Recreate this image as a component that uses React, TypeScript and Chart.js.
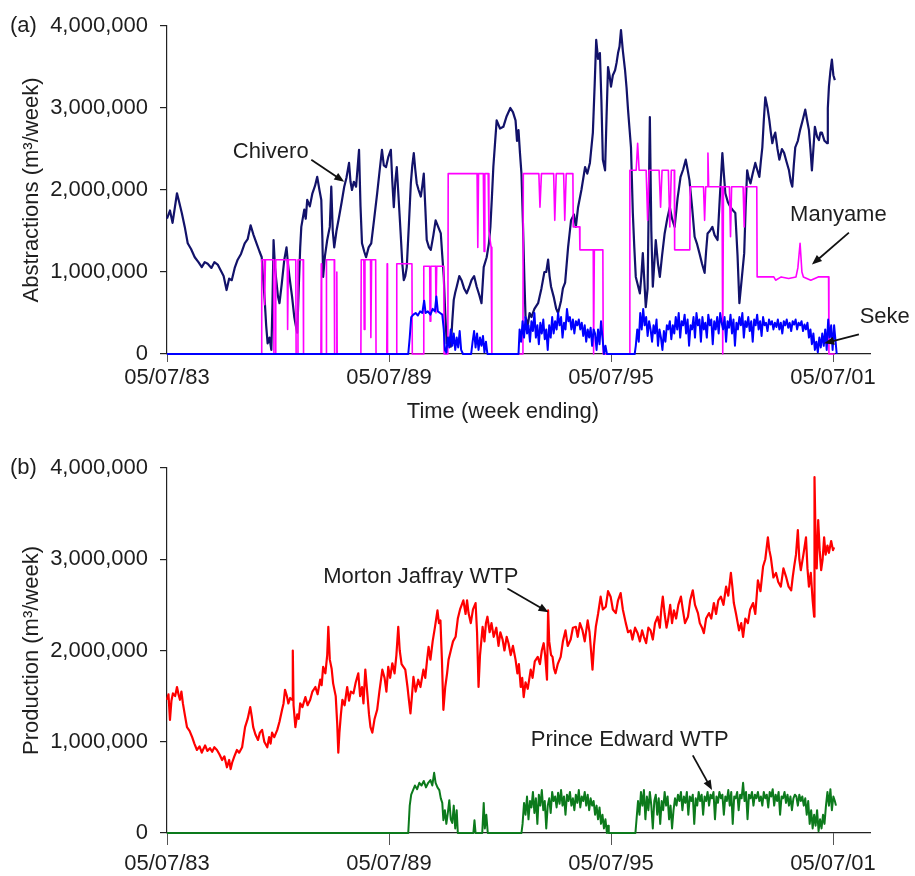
import React, { useEffect, useRef } from "react";
import { Chart, registerables } from "chart.js";

Chart.register(...registerables);

const FONT_FAMILY = "'Liberation Sans', Arial, Helvetica, sans-serif";
const TEXT_COLOR = "#1e1e1e";
const UNIT = 1000000; // series values below are in millions of m3/week

// x = years since week ending 05/07/83
const xTickValues = [0, 6, 12, 18];
const xTickLabels = ["05/07/83", "05/07/89", "05/07/95", "05/07/01"];
const yTickValues = [0, 1000000, 2000000, 3000000, 4000000];

type Pt = [number, number];

// ---------- (a) Abstractions ----------
const chiveroSeries: Pt[] = [
  [0,1.65],[0.08,1.75],[0.15,1.60],[0.27,1.96],[0.33,1.85],[0.40,1.72],[0.48,1.55],[0.56,1.35],[0.65,1.28],[0.75,1.18],[0.85,1.12],[0.94,1.06],[1.02,1.12],[1.10,1.10],[1.20,1.05],[1.28,1.12],[1.37,1.09],[1.45,1.02],[1.53,0.95],[1.61,0.78],[1.68,0.92],[1.75,0.90],[1.83,1.05],[1.91,1.15],[2.00,1.22],[2.10,1.35],[2.18,1.40],[2.26,1.57],[2.34,1.45],[2.42,1.35],[2.50,1.25],[2.56,1.18],[2.60,0.90],[2.64,0.66],[2.68,0.35],[2.72,0.13],[2.77,0.20],[2.82,0.05],[2.85,0.60],[2.88,1.39],[2.92,1.05],[2.96,0.87],[3.00,0.70],[3.04,0.62],[3.10,0.85],[3.17,1.15],[3.23,1.30],[3.27,1.10],[3.31,0.94],[3.38,0.70],[3.44,0.45],[3.48,0.35],[3.52,0.26],[3.56,0.80],[3.60,1.30],[3.63,1.55],[3.71,1.76],[3.75,1.65],[3.79,1.88],[3.86,1.80],[3.93,1.96],[4.00,2.05],[4.06,2.16],[4.12,2.00],[4.17,1.88],[4.20,1.40],[4.22,0.94],[4.27,1.20],[4.33,1.39],[4.40,1.55],[4.44,2.04],[4.48,1.50],[4.52,1.30],[4.58,1.50],[4.65,1.67],[4.72,1.85],[4.79,2.04],[4.85,2.15],[4.92,2.33],[4.96,2.10],[5.00,2.00],[5.05,2.10],[5.11,2.04],[5.19,2.49],[5.23,1.80],[5.27,1.35],[5.33,1.25],[5.38,1.18],[5.45,1.30],[5.52,1.35],[5.60,1.65],[5.68,1.96],[5.75,2.25],[5.81,2.49],[5.86,2.30],[5.92,2.28],[5.98,2.40],[6.05,2.49],[6.09,2.10],[6.13,1.79],[6.17,2.10],[6.21,2.28],[6.26,1.90],[6.32,1.43],[6.36,1.10],[6.40,0.90],[6.44,0.95],[6.48,1.06],[6.54,1.60],[6.59,2.08],[6.63,2.30],[6.67,2.45],[6.71,2.25],[6.75,2.08],[6.80,2.00],[6.86,1.92],[6.90,2.05],[6.94,2.20],[6.98,1.80],[7.02,1.39],[7.08,1.30],[7.13,1.27],[7.20,1.45],[7.26,1.63],[7.33,1.55],[7.40,1.47],[7.44,1.20],[7.48,0.94],[7.52,0.50],[7.56,0.13],[7.62,0.20],[7.67,0.09],[7.71,0.40],[7.75,0.66],[7.79,0.75],[7.83,0.82],[7.90,0.95],[7.96,0.90],[8.03,0.80],[8.10,0.74],[8.17,0.82],[8.23,0.90],[8.30,0.95],[8.37,0.82],[8.44,0.72],[8.50,0.62],[8.56,1.06],[8.64,1.18],[8.70,1.35],[8.74,1.55],[8.78,1.90],[8.82,2.28],[8.87,2.60],[8.91,2.85],[9.00,2.75],[9.09,2.77],[9.18,2.90],[9.28,3.00],[9.35,2.95],[9.42,2.85],[9.46,2.60],[9.50,2.73],[9.54,2.45],[9.58,2.20],[9.62,1.60],[9.66,0.90],[9.69,0.45],[9.75,0.35],[9.80,0.50],[9.85,0.45],[9.93,0.55],[10.03,0.62],[10.12,0.80],[10.20,1.00],[10.25,1.00],[10.30,1.15],[10.34,0.95],[10.38,0.82],[10.45,0.70],[10.52,0.55],[10.57,0.50],[10.65,0.65],[10.70,0.80],[10.76,0.87],[10.84,1.30],[10.92,1.63],[11.00,1.70],[11.05,1.55],[11.11,1.79],[11.20,2.00],[11.30,2.28],[11.36,2.20],[11.43,2.33],[11.51,2.70],[11.56,3.30],[11.60,3.83],[11.65,3.60],[11.70,3.67],[11.74,3.10],[11.78,2.37],[11.84,2.24],[11.88,2.90],[11.92,3.50],[11.96,3.40],[12.00,3.26],[12.05,3.40],[12.11,3.46],[12.15,3.55],[12.19,3.67],[12.23,3.75],[12.27,3.95],[12.32,3.70],[12.38,3.46],[12.42,3.25],[12.46,2.98],[12.50,2.75],[12.54,2.52],[12.59,1.72],[12.63,1.30],[12.67,0.94],[12.72,0.85],[12.78,0.74],[12.82,0.95],[12.86,1.23],[12.90,0.90],[12.94,0.57],[12.99,0.80],[13.05,2.89],[13.09,1.50],[13.13,0.82],[13.17,1.10],[13.21,1.39],[13.27,1.10],[13.32,0.94],[13.38,1.20],[13.45,1.47],[13.52,1.65],[13.59,1.79],[13.65,1.65],[13.72,1.55],[13.80,1.90],[13.88,2.16],[13.95,2.25],[14.02,2.37],[14.07,2.25],[14.12,2.12],[14.19,1.80],[14.26,1.43],[14.32,1.35],[14.39,1.23],[14.46,1.10],[14.53,0.99],[14.57,1.25],[14.61,1.47],[14.67,1.50],[14.74,1.55],[14.80,1.45],[14.88,1.39],[14.94,1.90],[15.01,2.45],[15.05,2.20],[15.09,1.96],[15.16,1.85],[15.23,1.79],[15.30,1.75],[15.36,1.72],[15.42,1.20],[15.47,0.62],[15.53,0.90],[15.60,1.23],[15.64,1.80],[15.68,2.24],[15.72,2.15],[15.77,2.08],[15.83,2.20],[15.90,2.33],[15.95,2.25],[16.01,2.16],[16.05,2.35],[16.09,2.52],[16.13,2.85],[16.17,3.13],[16.23,3.00],[16.28,2.85],[16.32,2.70],[16.36,2.57],[16.40,2.65],[16.44,2.70],[16.50,2.50],[16.55,2.37],[16.62,2.50],[16.68,2.45],[16.74,2.35],[16.81,2.24],[16.86,2.10],[16.90,2.04],[16.94,2.30],[16.98,2.52],[17.05,2.60],[17.11,2.73],[17.18,2.85],[17.25,2.98],[17.30,2.85],[17.35,2.73],[17.39,2.50],[17.43,2.24],[17.47,2.50],[17.51,2.77],[17.57,2.65],[17.62,2.61],[17.66,2.70],[17.70,2.70],[17.77,2.60],[17.84,2.57],[17.86,3.00],[17.89,3.26],[17.93,3.45],[17.97,3.59],[18.01,3.40],[18.05,3.34]
];

const manyameSeries: Pt[] = [
  [0,0],[2.55,0],[2.56,1.15],[2.63,1.15],[2.64,0.6],[2.66,1.15],[2.88,1.15],[2.89,0],[2.93,0],[2.94,1.15],[3.25,1.15],[3.26,0.3],[3.28,1.15],[3.48,1.15],[3.49,0],[3.53,0],[3.54,1.15],[3.68,1.15],[3.69,0],
  [4.16,0],[4.17,1.10],[4.18,0],[4.30,0],[4.31,1.15],[4.52,1.15],[4.53,0],[4.58,0],[4.59,1.0],[4.60,0],
  [5.24,0],[5.25,1.15],[5.32,1.15],[5.33,0.3],[5.35,1.15],[5.50,1.15],[5.51,0.2],[5.53,1.15],[5.64,1.15],[5.65,0],
  [5.94,0],[5.95,1.10],[5.96,0],
  [6.20,0],[6.21,1.10],[6.62,1.10],[6.63,0],
  [6.93,0],[6.94,1.07],[7.10,1.07],[7.11,0.4],[7.13,1.07],[7.26,1.07],[7.27,0.5],[7.29,1.07],[7.48,1.07],[7.49,0],
  [7.59,0],[7.60,2.20],[8.38,2.20],[8.40,1.30],[8.42,2.20],[8.55,2.20],[8.57,1.25],[8.59,2.20],[8.68,2.20],[8.70,1.50],[8.76,1.30],[8.78,0],
  [9.62,0],[9.63,2.20],[10.05,2.20],[10.08,1.79],[10.12,2.20],[10.45,2.20],[10.48,1.63],[10.52,2.20],[10.72,2.20],[10.75,1.63],[10.79,2.20],[10.97,2.20],[10.98,1.55],[11.15,1.55],[11.16,1.27],[11.52,1.27],[11.53,0],[11.55,1.27],[11.78,1.27],[11.79,0],
  [12.50,0],[12.51,2.24],[12.68,2.24],[12.72,2.57],[12.76,2.24],[12.95,2.24],[12.99,1.63],[13.03,2.24],[13.30,2.24],[13.34,1.79],[13.38,2.24],[13.55,2.24],[13.59,1.55],[13.63,2.24],[13.71,2.24],[13.72,1.27],[14.13,1.27],[14.14,2.04],[14.50,2.04],[14.53,1.63],[14.56,2.04],[14.60,2.04],[14.62,2.45],[14.64,2.04],[15.00,2.04],[15.02,0],[15.04,2.04],[15.20,2.04],[15.23,1.43],[15.26,2.04],[15.57,2.04],[15.60,1.55],[15.63,2.04],[15.94,2.04],[15.95,0.94],[16.40,0.94],[16.45,0.90],[16.60,0.94],[16.80,0.92],[17.00,0.94],[17.05,1.05],[17.11,1.35],[17.16,1.00],[17.20,0.94],[17.40,0.90],[17.60,0.94],[17.88,0.94],[17.89,0],[18.05,0]
];

const sekeSeries: Pt[] = [
  [0,0],[6.52,0],[6.56,0.20],[6.60,0.45],[6.66,0.48],[6.72,0.50],[6.78,0.47],[6.84,0.52],[6.90,0.50],[6.95,0.65],[6.99,0.50],[7.05,0.52],[7.12,0.48],[7.18,0.55],[7.24,0.52],[7.28,0.70],[7.32,0.52],[7.38,0.50],[7.44,0.48],[7.48,0.30],[7.51,0.05],[7.55,0.02],[7.59,0.20],[7.63,0.08],[7.67,0.30],[7.71,0.10],[7.75,0.25],[7.79,0.05],[7.83,0.20],[7.87,0.08],[7.91,0.28],[7.95,0.05],[8.00,0],[8.22,0],[8.26,0.15],[8.30,0.28],[8.34,0.08],[8.38,0.25],[8.42,0.05],[8.46,0.20],[8.50,0.10],[8.54,0.22],[8.58,0.02],[8.62,0.15],[8.66,0],[9.50,0],
  [9.53,0.30],[9.57,0.15],[9.61,0.40],[9.65,0.20],[9.69,0.45],[9.73,0.25],[9.77,0.35],[9.81,0.15],[9.85,0.40],[9.89,0.28],[9.93,0.50],[9.97,0.20],[10.01,0.35],[10.05,0.12],[10.09,0.38],[10.13,0.25],[10.17,0.42],[10.21,0.18],[10.25,0.30],[10.29,0.05],[10.33,0.35],[10.37,0.20],[10.41,0.45],[10.45,0.25],[10.49,0.40],[10.53,0.30],[10.57,0.50],[10.61,0.35],[10.65,0.45],[10.69,0.20],[10.73,0.38],[10.77,0.30],[10.81,0.55],[10.85,0.40],[10.89,0.45],[10.93,0.30],[10.97,0.42],[11.01,0.25],[11.05,0.40],[11.09,0.35],[11.13,0.42],[11.17,0.30],[11.21,0.38],[11.25,0.22],[11.29,0.35],[11.33,0.15],[11.37,0.30],[11.41,0.20],[11.45,0.32],[11.49,0.10],[11.53,0.30],[11.57,0.25],[11.61,0.05],[11.65,0.30],[11.69,0.12],[11.73,0.40],[11.77,0.20],[11.81,0.0],[11.85,0.10],[11.89,0],
  [12.64,0],[12.67,0.10],[12.71,0.30],[12.75,0.15],[12.79,0.50],[12.83,0.30],[12.87,0.55],[12.91,0.35],[12.95,0.45],[12.99,0.22],[13.03,0.40],[13.07,0.30],[13.11,0.15],[13.15,0.35],[13.19,0.25],[13.23,0.42],[13.27,0.10],[13.31,0.30],[13.35,0.20],[13.39,0.05],[13.43,0.28],[13.47,0.15],[13.51,0.35],[13.55,0.30],[13.59,0.40],[13.63,0.18],[13.67,0.35],[13.71,0.25],[13.75,0.45],[13.79,0.30],[13.83,0.50],[13.87,0.20],[13.91,0.40],[13.95,0.35],[13.99,0.48],[14.03,0.25],[14.07,0.42],[14.11,0.10],[14.15,0.35],[14.19,0.30],[14.23,0.45],[14.27,0.20],[14.31,0.50],[14.35,0.35],[14.39,0.42],[14.43,0.15],[14.47,0.45],[14.51,0.30],[14.55,0.38],[14.59,0.20],[14.63,0.48],[14.67,0.35],[14.71,0.42],[14.75,0.12],[14.79,0.40],[14.83,0.30],[14.87,0.45],[14.91,0.25],[14.95,0.50],[14.99,0.38],[15.03,0.30],[15.07,0.45],[15.11,0.15],[15.15,0.40],[15.19,0.32],[15.23,0.48],[15.27,0.25],[15.31,0.42],[15.35,0.10],[15.39,0.38],[15.43,0.30],[15.47,0.45],[15.51,0.35],[15.55,0.50],[15.59,0.20],[15.63,0.40],[15.67,0.33],[15.71,0.45],[15.75,0.28],[15.79,0.40],[15.83,0.15],[15.87,0.42],[15.91,0.35],[15.95,0.48],[15.99,0.30],[16.03,0.40],[16.07,0.22],[16.11,0.45],[16.15,0.35],[16.19,0.38],[16.23,0.28],[16.27,0.42],[16.31,0.36],[16.35,0.40],[16.39,0.30],[16.43,0.38],[16.47,0.33],[16.51,0.42],[16.55,0.30],[16.59,0.38],[16.63,0.25],[16.67,0.40],[16.71,0.35],[16.75,0.42],[16.79,0.32],[16.83,0.38],[16.87,0.28],[16.91,0.40],[16.95,0.36],[16.99,0.42],[17.03,0.30],[17.07,0.38],[17.11,0.35],[17.15,0.40],[17.19,0.28],[17.23,0.36],[17.27,0.30],[17.31,0.38],[17.35,0.20],[17.39,0.30],[17.43,0.12],[17.47,0.25],[17.51,0.05],[17.55,0.15],[17.59,0.02],[17.63,0.20],[17.67,0.08],[17.71,0.25],[17.75,0.10],[17.79,0.30],[17.83,0.05],[17.87,0.42],[17.91,0.20],[17.95,0.35],[17.99,0.05],[18.03,0.35],[18.07,0.15],[18.10,0]
];

// ---------- (b) Production ----------
const mortonJaffraySeries: Pt[] = [
  [0,1.46],[0.04,1.52],[0.08,1.24],[0.12,1.45],[0.16,1.53],[0.22,1.50],[0.27,1.60],[0.31,1.52],[0.35,1.46],[0.39,1.55],[0.43,1.42],[0.48,1.30],[0.54,1.16],[0.61,1.12],[0.68,1.05],[0.74,0.98],[0.81,0.91],[0.88,0.95],[0.94,0.88],[0.97,0.91],[1.03,0.96],[1.09,0.90],[1.16,0.93],[1.22,0.89],[1.28,0.94],[1.35,0.91],[1.42,0.86],[1.49,0.80],[1.55,0.84],[1.62,0.72],[1.68,0.80],[1.72,0.70],[1.76,0.77],[1.82,0.84],[1.89,0.91],[1.95,0.88],[2.03,0.94],[2.07,1.05],[2.11,1.16],[2.18,1.25],[2.25,1.38],[2.29,1.28],[2.33,1.16],[2.39,1.08],[2.46,1.02],[2.51,1.10],[2.57,1.13],[2.63,1.00],[2.71,0.94],[2.76,1.05],[2.80,0.98],[2.84,1.10],[2.90,1.05],[2.98,1.13],[3.04,1.22],[3.11,1.35],[3.15,1.42],[3.19,1.57],[3.24,1.50],[3.28,1.42],[3.33,1.48],[3.38,1.46],[3.40,2.00],[3.42,1.40],[3.47,1.16],[3.52,1.30],[3.56,1.25],[3.60,1.42],[3.66,1.38],[3.74,1.49],[3.80,1.40],[3.87,1.46],[3.93,1.55],[4.01,1.60],[4.07,1.52],[4.14,1.68],[4.18,1.62],[4.22,1.82],[4.28,1.75],[4.33,1.95],[4.36,2.26],[4.40,1.90],[4.45,1.80],[4.49,1.64],[4.56,1.50],[4.60,1.20],[4.63,0.88],[4.66,1.10],[4.70,1.30],[4.74,1.46],[4.80,1.40],[4.87,1.60],[4.92,1.45],[4.97,1.55],[5.04,1.53],[5.10,1.65],[5.17,1.75],[5.22,1.50],[5.27,1.60],[5.31,1.42],[5.36,1.79],[5.42,1.50],[5.46,1.30],[5.50,1.16],[5.55,1.10],[5.61,1.25],[5.68,1.35],[5.74,1.55],[5.82,1.79],[5.88,1.70],[5.93,1.55],[5.98,1.82],[6.03,1.70],[6.09,1.86],[6.15,1.75],[6.20,1.95],[6.25,2.26],[6.29,2.00],[6.34,1.85],[6.39,1.82],[6.44,1.79],[6.50,1.60],[6.54,1.45],[6.58,1.31],[6.62,1.50],[6.66,1.71],[6.72,1.55],[6.79,1.68],[6.85,1.60],[6.93,1.79],[6.98,1.70],[7.03,1.90],[7.07,2.04],[7.12,1.90],[7.18,2.10],[7.24,2.25],[7.31,2.44],[7.35,2.30],[7.39,2.33],[7.43,1.90],[7.47,1.35],[7.52,1.60],[7.57,1.75],[7.61,1.90],[7.67,2.00],[7.73,2.10],[7.80,2.15],[7.86,2.35],[7.92,2.45],[8.01,2.55],[8.07,2.40],[8.11,2.55],[8.15,2.41],[8.21,2.30],[8.27,2.45],[8.34,2.52],[8.38,2.20],[8.42,1.60],[8.46,1.95],[8.53,2.26],[8.58,2.10],[8.62,2.30],[8.66,2.37],[8.72,2.20],[8.77,2.30],[8.83,2.15],[8.90,2.25],[8.96,2.05],[9.01,2.20],[9.07,2.12],[9.12,2.00],[9.18,2.15],[9.23,2.08],[9.29,1.95],[9.35,2.05],[9.42,1.90],[9.47,1.75],[9.51,1.85],[9.56,1.60],[9.60,1.70],[9.64,1.49],[9.69,1.65],[9.75,1.58],[9.83,1.79],[9.88,1.70],[9.94,1.88],[10.02,1.93],[10.08,1.85],[10.13,2.00],[10.18,2.08],[10.22,1.95],[10.27,1.68],[10.30,2.44],[10.33,2.10],[10.38,1.95],[10.42,1.93],[10.46,1.80],[10.50,1.75],[10.56,1.85],[10.64,1.93],[10.70,2.10],[10.77,2.22],[10.83,2.05],[10.91,2.12],[10.97,2.25],[11.05,2.26],[11.10,2.15],[11.16,2.30],[11.23,2.22],[11.29,2.10],[11.37,2.33],[11.42,2.20],[11.46,2.00],[11.50,1.79],[11.54,2.05],[11.59,2.26],[11.65,2.40],[11.72,2.59],[11.78,2.45],[11.86,2.48],[11.92,2.65],[11.99,2.59],[12.05,2.45],[12.13,2.41],[12.19,2.55],[12.26,2.63],[12.32,2.45],[12.40,2.30],[12.46,2.20],[12.53,2.22],[12.58,2.12],[12.65,2.25],[12.72,2.19],[12.78,2.10],[12.84,2.22],[12.89,2.15],[12.95,2.08],[13.01,2.25],[13.07,2.22],[13.13,2.12],[13.19,2.30],[13.26,2.37],[13.32,2.25],[13.36,2.45],[13.40,2.59],[13.45,2.40],[13.50,2.25],[13.54,2.33],[13.60,2.50],[13.65,2.30],[13.70,2.44],[13.76,2.35],[13.82,2.50],[13.89,2.59],[13.94,2.45],[14.00,2.30],[14.08,2.37],[14.14,2.55],[14.21,2.66],[14.27,2.50],[14.35,2.41],[14.40,2.30],[14.46,2.25],[14.51,2.19],[14.57,2.35],[14.65,2.41],[14.71,2.35],[14.78,2.52],[14.84,2.40],[14.90,2.55],[14.97,2.59],[15.04,2.50],[15.11,2.70],[15.17,2.60],[15.24,2.85],[15.28,2.70],[15.32,2.52],[15.38,2.40],[15.46,2.22],[15.52,2.30],[15.57,2.15],[15.63,2.35],[15.70,2.30],[15.76,2.45],[15.84,2.52],[15.90,2.40],[15.97,2.77],[16.04,2.65],[16.11,2.92],[16.17,3.00],[16.24,3.24],[16.28,3.10],[16.32,3.02],[16.39,2.80],[16.46,2.85],[16.52,2.75],[16.59,2.70],[16.66,2.90],[16.73,2.81],[16.80,2.70],[16.87,2.66],[16.91,2.80],[16.95,2.92],[17.00,3.05],[17.05,3.32],[17.09,3.00],[17.13,2.88],[17.20,3.05],[17.27,3.24],[17.31,2.90],[17.35,2.70],[17.40,2.85],[17.45,2.55],[17.49,2.37],[17.50,3.90],[17.53,3.20],[17.56,2.90],[17.60,3.43],[17.64,3.10],[17.68,2.88],[17.72,3.00],[17.76,3.24],[17.80,3.05],[17.85,3.15],[17.89,3.07],[17.95,3.20],[18.00,3.10],[18.03,3.13]
];

const princeEdwardSeries: Pt[] = [
  [0,0],[6.52,0],[6.56,0.30],[6.60,0.42],[6.65,0.47],[6.70,0.52],[6.76,0.48],[6.82,0.55],[6.88,0.52],[6.94,0.57],[7.00,0.50],[7.06,0.55],[7.12,0.58],[7.17,0.52],[7.22,0.66],[7.26,0.55],[7.31,0.50],[7.36,0.47],[7.40,0.38],[7.44,0.33],[7.47,0.14],[7.51,0.25],[7.55,0.10],[7.59,0.22],[7.63,0.36],[7.67,0.15],[7.71,0.11],[7.75,0.30],[7.79,0.05],[7.83,0.25],[7.86,0],[8.28,0],[8.31,0.14],[8.34,0],[8.52,0],[8.56,0.33],[8.59,0.05],[8.63,0.20],[8.67,0],[9.58,0],
  [9.61,0.10],[9.65,0.33],[9.69,0.20],[9.73,0.40],[9.77,0.15],[9.81,0.35],[9.85,0.28],[9.89,0.45],[9.93,0.22],[9.97,0.38],[10.01,0.10],[10.05,0.42],[10.09,0.30],[10.13,0.47],[10.17,0.25],[10.21,0.35],[10.25,0.05],[10.29,0.30],[10.33,0.38],[10.37,0.22],[10.41,0.45],[10.45,0.35],[10.49,0.40],[10.53,0.28],[10.57,0.44],[10.61,0.32],[10.65,0.47],[10.69,0.30],[10.73,0.40],[10.77,0.20],[10.81,0.42],[10.85,0.35],[10.89,0.45],[10.93,0.30],[10.97,0.38],[11.01,0.25],[11.05,0.42],[11.09,0.33],[11.13,0.47],[11.17,0.28],[11.21,0.40],[11.25,0.35],[11.29,0.45],[11.33,0.30],[11.37,0.42],[11.41,0.25],[11.45,0.38],[11.49,0.30],[11.53,0.35],[11.57,0.20],[11.61,0.30],[11.65,0.15],[11.69,0.28],[11.73,0.10],[11.77,0.20],[11.81,0.05],[11.85,0.15],[11.89,0.0],[11.92,0.08],[11.94,0],
  [12.66,0],[12.69,0.15],[12.73,0.35],[12.77,0.20],[12.81,0.45],[12.85,0.30],[12.89,0.47],[12.93,0.15],[12.97,0.40],[13.01,0.25],[13.05,0.45],[13.09,0.30],[13.13,0.05],[13.17,0.35],[13.21,0.42],[13.25,0.20],[13.29,0.38],[13.33,0.10],[13.37,0.35],[13.41,0.25],[13.45,0.45],[13.49,0.30],[13.53,0.40],[13.57,0.15],[13.61,0.30],[13.65,0.05],[13.69,0.25],[13.73,0.38],[13.77,0.30],[13.81,0.42],[13.85,0.35],[13.89,0.45],[13.93,0.25],[13.97,0.40],[14.01,0.33],[14.05,0.45],[14.09,0.20],[14.13,0.40],[14.17,0.35],[14.21,0.42],[14.25,0.10],[14.29,0.38],[14.33,0.30],[14.37,0.45],[14.41,0.35],[14.45,0.42],[14.49,0.20],[14.53,0.40],[14.57,0.35],[14.61,0.45],[14.65,0.30],[14.69,0.42],[14.73,0.38],[14.77,0.45],[14.81,0.15],[14.85,0.40],[14.89,0.33],[14.93,0.45],[14.97,0.38],[15.01,0.42],[15.05,0.20],[15.09,0.40],[15.13,0.35],[15.17,0.47],[15.21,0.30],[15.25,0.45],[15.29,0.10],[15.33,0.40],[15.37,0.38],[15.41,0.45],[15.45,0.25],[15.49,0.42],[15.53,0.38],[15.57,0.55],[15.61,0.35],[15.65,0.45],[15.69,0.15],[15.73,0.42],[15.77,0.38],[15.81,0.45],[15.85,0.30],[15.89,0.42],[15.93,0.38],[15.97,0.45],[16.01,0.35],[16.05,0.40],[16.09,0.30],[16.13,0.45],[16.17,0.38],[16.21,0.42],[16.25,0.28],[16.29,0.45],[16.33,0.40],[16.37,0.48],[16.41,0.30],[16.45,0.42],[16.49,0.35],[16.53,0.45],[16.57,0.20],[16.61,0.40],[16.65,0.38],[16.69,0.45],[16.73,0.33],[16.77,0.42],[16.81,0.30],[16.85,0.40],[16.89,0.25],[16.93,0.38],[16.97,0.42],[17.01,0.40],[17.05,0.30],[17.09,0.42],[17.13,0.35],[17.17,0.40],[17.21,0.30],[17.25,0.38],[17.29,0.20],[17.33,0.35],[17.37,0.10],[17.41,0.25],[17.45,0.05],[17.49,0.20],[17.53,0.08],[17.57,0.25],[17.61,0.02],[17.65,0.15],[17.69,0.05],[17.73,0.20],[17.77,0.10],[17.81,0.30],[17.85,0.45],[17.89,0.30],[17.93,0.48],[17.97,0.25],[18.01,0.40],[18.05,0.35],[18.08,0.30]
];

type Note = { text: string; at: Pt; from: Pt; to: Pt };

const topNotes: Note[] = [
  { text: "Chivero", at: [1.78, 2.46], from: [3.90, 2.37], to: [4.79, 2.10] },
  { text: "Manyame", at: [16.84, 1.70], from: [18.43, 1.48], to: [17.43, 1.09] },
  { text: "Seke", at: [18.72, 0.45], from: [18.70, 0.24], to: [17.76, 0.13] },
];
const bottomNotes: Note[] = [
  { text: "Morton Jaffray WTP", at: [4.22, 2.81], from: [9.20, 2.68], to: [10.31, 2.42] },
  { text: "Prince Edward WTP", at: [9.83, 1.02], from: [14.21, 0.85], to: [14.73, 0.47] },
];

function toXY(series: Pt[]) {
  return series.map(([x, y]) => ({ x, y: y * UNIT }));
}

function drawArrow(ctx: CanvasRenderingContext2D, x1: number, y1: number, x2: number, y2: number) {
  const ang = Math.atan2(y2 - y1, x2 - x1);
  const len = 10;
  const half = 4;
  ctx.beginPath();
  ctx.moveTo(x1, y1);
  ctx.lineTo(x2 - Math.cos(ang) * len * 0.6, y2 - Math.sin(ang) * len * 0.6);
  ctx.lineWidth = 1.8;
  ctx.strokeStyle = "#111";
  ctx.stroke();
  ctx.beginPath();
  ctx.moveTo(x2, y2);
  ctx.lineTo(x2 - Math.cos(ang) * len + Math.sin(ang) * half, y2 - Math.sin(ang) * len - Math.cos(ang) * half);
  ctx.lineTo(x2 - Math.cos(ang) * len - Math.sin(ang) * half, y2 - Math.sin(ang) * len + Math.cos(ang) * half);
  ctx.closePath();
  ctx.fillStyle = "#111";
  ctx.fill();
}

const panelTextPlugin = {
  id: "panelText",
  afterDraw(chart: any, _args: any, opts: any) {
    const { ctx, chartArea, scales } = chart;
    const px = (t: number) => scales.x.getPixelForValue(t);
    const py = (v: number) => scales.y.getPixelForValue(v * UNIT);
    ctx.save();
    ctx.font = `22px ${FONT_FAMILY}`;
    ctx.fillStyle = TEXT_COLOR;
    ctx.textBaseline = "middle";
    ctx.textAlign = "left";
    ctx.fillText(opts.panel, 10, chartArea.top);
    if (opts.xTitle) {
      ctx.textAlign = "center";
      ctx.fillText(opts.xTitle.text, px(opts.xTitle.at), chartArea.bottom + opts.xTitle.dy);
    }
    for (const n of opts.notes as Note[]) {
      ctx.textAlign = "left";
      ctx.fillStyle = TEXT_COLOR;
      ctx.fillText(n.text, px(n.at[0]), py(n.at[1]));
      drawArrow(ctx, px(n.from[0]), py(n.from[1]), px(n.to[0]), py(n.to[1]));
    }
    ctx.restore();
  },
};

type SeriesSpec = { name: string; data: Pt[]; color: string; width: number; order: number };
type PanelSpec = {
  height: number;
  padTop: number;
  xAxisHeight: number;
  xTickLen: number;
  xTickPad: number;
  yTitle: string;
  panel: string;
  xTitle?: { text: string; at: number; dy: number };
  notes: Note[];
  series: SeriesSpec[];
};

function buildConfig(spec: PanelSpec): any {
  const font = { family: FONT_FAMILY, size: 22 };
  return {
    type: "line",
    data: {
      datasets: spec.series.map((s) => ({
        label: s.name,
        data: toXY(s.data),
        borderColor: s.color,
        backgroundColor: s.color,
        borderWidth: s.width,
        pointRadius: 0,
        tension: 0,
        fill: false,
        order: s.order,
        clip: 4,
        borderJoinStyle: "round",
      })),
    },
    options: {
      responsive: false,
      animation: false,
      devicePixelRatio: 1,
      events: [],
      layout: { padding: { left: 0, right: 45, top: spec.padTop, bottom: 0 } },
      plugins: {
        legend: { display: false },
        tooltip: { enabled: false },
        panelText: { panel: spec.panel, notes: spec.notes, xTitle: spec.xTitle },
      },
      scales: {
        x: {
          type: "linear",
          min: 0,
          max: 19,
          afterBuildTicks: (axis: any) => {
            axis.ticks = xTickValues.map((v) => ({ value: v }));
          },
          afterFit: (axis: any) => {
            axis.height = spec.xAxisHeight;
          },
          ticks: {
            autoSkip: false,
            maxRotation: 0,
            padding: spec.xTickPad,
            color: TEXT_COLOR,
            font,
            callback: (v: any) => {
              const i = xTickValues.indexOf(Number(v));
              return i >= 0 ? xTickLabels[i] : "";
            },
          },
          grid: { drawOnChartArea: false, drawTicks: true, tickLength: spec.xTickLen, color: "#555", lineWidth: 1 },
          border: { display: true, color: "#222", width: 1.2 },
        },
        y: {
          type: "linear",
          min: 0,
          max: 4000000,
          afterBuildTicks: (axis: any) => {
            axis.ticks = yTickValues.map((v) => ({ value: v }));
          },
          afterFit: (axis: any) => {
            axis.width = 167;
          },
          ticks: {
            padding: 12,
            color: TEXT_COLOR,
            font,
            callback: (v: any) => Number(v).toLocaleString("en-US"),
          },
          grid: { drawOnChartArea: false, drawTicks: true, tickLength: 7, color: "#222", lineWidth: 1.2 },
          border: { display: true, color: "#222", width: 1.2 },
          title: { display: true, text: spec.yTitle, color: TEXT_COLOR, font, padding: { top: 19, bottom: 0 } },
        },
      },
    },
    plugins: [panelTextPlugin],
  };
}

const topSpec: PanelSpec = {
  height: 430,
  padTop: 26,
  xAxisHeight: 76,
  xTickLen: 8,
  xTickPad: 3,
  yTitle: "Abstractions (m³/week)",
  panel: "(a)",
  xTitle: { text: "Time (week ending)", at: 9.08, dy: 58 },
  notes: topNotes,
  series: [
    { name: "Seke", data: sekeSeries, color: "#0000ff", width: 2, order: 0 },
    { name: "Manyame", data: manyameSeries, color: "#ff00ff", width: 1.6, order: 1 },
    { name: "Chivero", data: chiveroSeries, color: "#12126a", width: 2.2, order: 2 },
  ],
};

const bottomSpec: PanelSpec = {
  height: 446,
  padTop: 38,
  xAxisHeight: 43,
  xTickLen: 12,
  xTickPad: 6,
  yTitle: "Production (m³/week)",
  panel: "(b)",
  notes: bottomNotes,
  series: [
    { name: "Prince Edward WTP", data: princeEdwardSeries, color: "#0c7a1c", width: 2, order: 0 },
    { name: "Morton Jaffray WTP", data: mortonJaffraySeries, color: "#ff0000", width: 2.2, order: 1 },
  ],
};

function Panel({ spec, top }: { spec: PanelSpec; top: number }) {
  const ref = useRef<HTMLCanvasElement>(null);
  useEffect(() => {
    if (!ref.current) return;
    const chart = new Chart(ref.current, buildConfig(spec));
    return () => chart.destroy();
  }, [spec]);
  return (
    <canvas
      ref={ref}
      width={915}
      height={spec.height}
      style={{ position: "absolute", left: 0, top, width: 915, height: spec.height }}
    />
  );
}

export default function App() {
  return (
    <div style={{ position: "absolute", left: 0, top: 0, width: 915, height: 876, background: "#fff" }}>
      <Panel spec={topSpec} top={0} />
      <Panel spec={bottomSpec} top={430} />
    </div>
  );
}
